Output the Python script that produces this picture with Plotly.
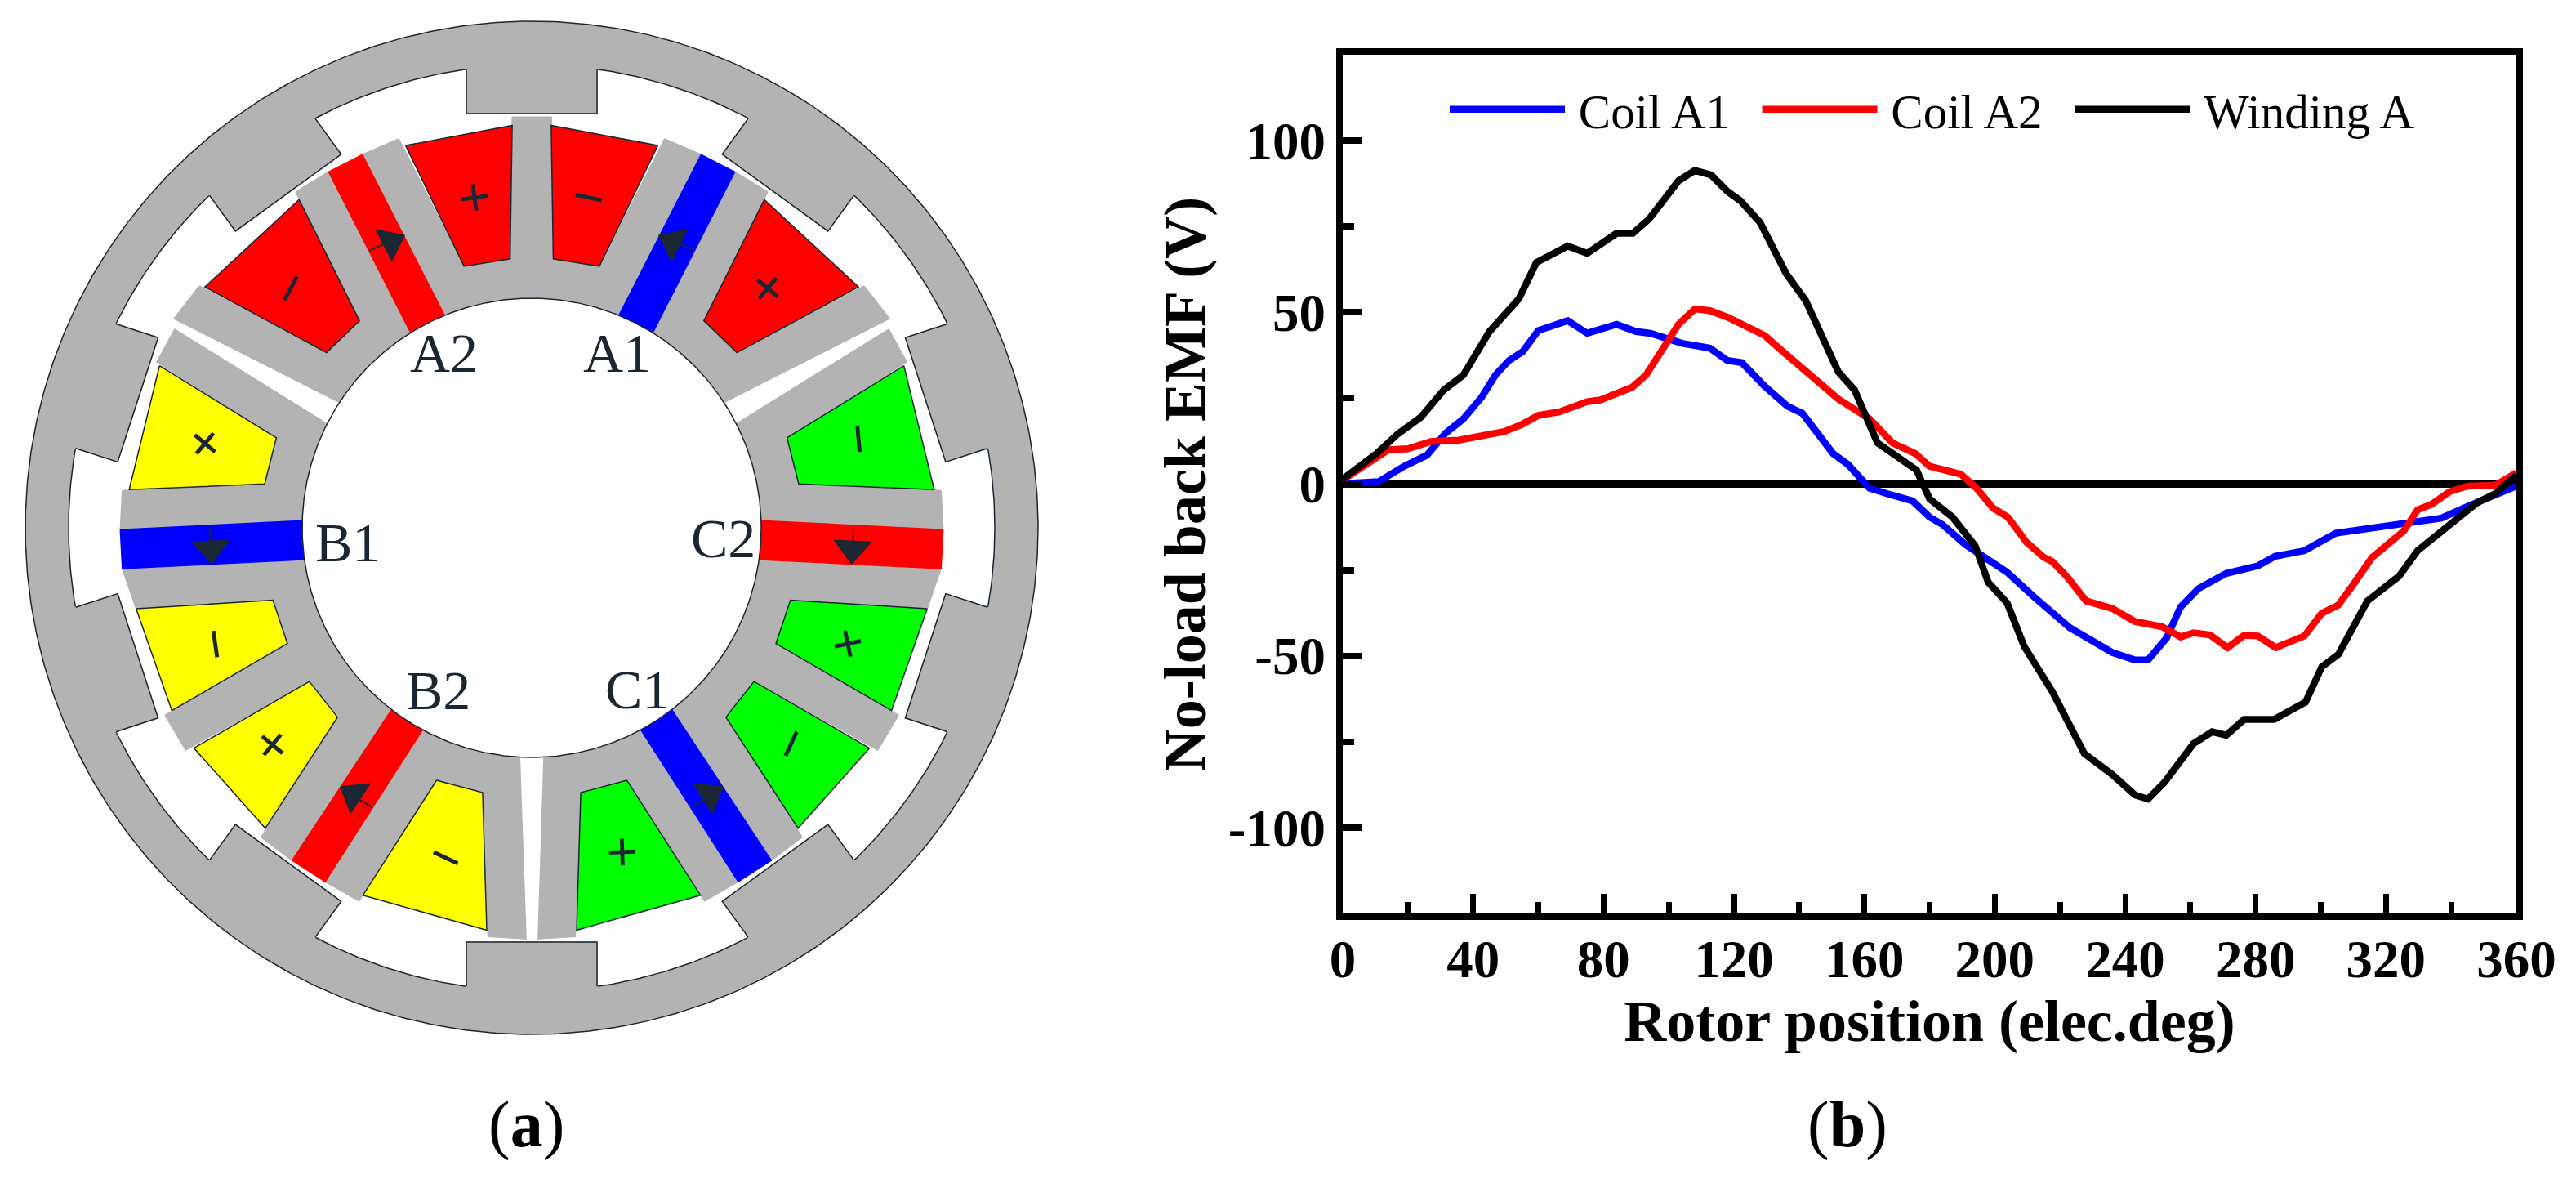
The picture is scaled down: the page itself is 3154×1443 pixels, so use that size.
import numpy as np
import plotly.graph_objects as go

# ---- right panel: back EMF curves
COIL_A1_DEG = [0, 11, 18.8, 25.8, 31.4, 37, 42.6, 46.8, 51, 55.2, 60, 69, 75, 84, 90, 94.4, 104, 112.6, 118, 122.4,
               129.4, 136.4, 141, 150.4, 155, 161.6, 167, 174.8, 180, 184, 191, 203.7, 212, 223, 236, 243, 247,
               252.7, 257, 262.5, 271, 280.7, 286, 295, 304.6, 320, 337, 345, 353.7, 360]
COIL_A1_V = [0.1, 0.7, 5.2, 8.4, 14.7, 19, 25.3, 31.7, 36, 38.6, 44.7, 47.6, 43.9, 46.5, 44.4, 43.9, 41, 39.6, 36, 35.4,
             28.5, 22.7, 20.6, 8.9, 5.7, -1.2, -2.8, -4.9, -9.6, -11.8, -17.6, -25.6, -32.8, -41.8, -49, -51.2, -51.2,
             -44.8, -35.8, -30.4, -26, -23.8, -21, -19.4, -14.3, -12.3, -9.9, -6.5, -3.3, -0.6]

COIL_A2_DEG = [0, 7.6, 14, 20, 27, 35.6, 41, 49.6, 55, 60, 66.4, 75, 79, 88.8, 93, 98.6, 103, 108, 112.6, 118, 124,
               129.4, 135, 143.4, 152, 161.6, 168.6, 175.6, 180, 189.6, 194.4, 199.5, 204, 209.8, 215, 217.7, 222,
               228, 236, 243, 251.3, 257, 261, 266, 271.4, 276.5, 280.7, 286.2, 295, 300.3, 305.4, 310, 315.7, 325.5,
               329.7, 334, 339.5, 345, 353.7, 360]
COIL_A2_V = [1.2, 6.2, 10, 10.3, 12.4, 12.8, 13.9, 15.3, 17.4, 20, 21, 24, 24.5, 28.2, 31.7, 40, 46.5, 51, 50.5, 48.6, 46,
             43.3, 38.6, 31.7, 24.8, 19, 12, 8.9, 5.2, 2.9, -1.2, -7, -9.6, -17, -21.3, -22.6, -26.8,
             -34, -36.2, -40, -41.5, -44.5, -43.3, -43.9, -47.6, -44, -44.2, -47.6, -44.2, -37.6, -35.2, -29.2, -21.4, -13.6,
             -7.5, -5.9, -2.2, -0.6, -0.3, 3.3]

WINDING_A_DEG = [0, 10.4, 17, 24, 31, 37, 45, 54, 59.4, 69, 75, 84, 89, 94, 103, 108, 113, 118, 122, 128, 136, 142,
                 152, 157, 164, 176, 180, 187, 194, 198, 203.8, 209, 217.7, 227.5, 236, 243, 247, 252, 261, 266.7, 271,
                 276.5, 285.7, 295.3, 300.3, 305.4, 314.3, 324, 329.7, 339.5, 348, 353.5, 360]
WINDING_A_V = [1.5, 8.9, 14.7, 19.5, 27.4, 31.7, 44.4, 53.9, 64.5, 69.3, 67.2, 73, 73, 77.2, 88.3, 91.3, 90, 85.2, 82.5, 76.2, 61.3, 53.4,
               32.7, 27.4, 12, 4.1, -4.3, -9.6, -18, -28.6, -34.6, -47.2, -60.5, -78.5, -84.5, -90.5, -91.7, -86.9, -75.5, -72.1, -73.1,
               -68.5, -68.5, -63.5, -53.2, -49.6, -34, -26.8, -19.4, -11.8, -5.4, -2.8, 2.5]

X_TICKS = [0, 40, 80, 120, 160, 200, 240, 280, 320, 360]
X_LABELS = ["0", "40", "80", "120", "160", "200", "240", "280", "320", "360"]
Y_TICKS = [-100, -50, 0, 50, 100]
Y_LABELS = ["-100", "-50", "0", "50", "100"]

# ---- left panel: machine cross section, in picture pixels
W, H = 3154, 1443
CX, CY = 651, 646
R_ROTOR_OUT = 620
R_ROTOR_IN = 567
R_BACK_IRON = 330
R_BORE = 281

GREY = "#b3b3b3"
DARK = "#1a2733"
RED = "#ff0000"
BLUE = "#0000ff"
YELLOW = "#ffff00"
GREEN = "#00ff00"

ROTOR_TOOTH_ANGLES = [0, 36, 72, 108, 144, 180, 216, 252, 288, 324]
ROTOR_TOOTH_LOCAL = [(-80, -507), (80, -507), (80, -575), (-80, -575)]
ROTOR_TOOTH_EDGE = [(-80, -561), (-80, -507), (80, -507), (80, -561)]

# stator teeth, left half (the right half is the mirror image)
TOOTH_B = [(443.6, 189.2), (488.2, 169.9), (568.2, 326.9), (543.8, 384.8)]
TOOTH_C = [(362, 235), (402.4, 210.3), (502.5, 406.3), (440.2, 392.6)]
TOOTH_D = [(244.1, 349.9), (212.1, 391.2), (412.5, 492.7), (399.8, 431.6)]
TOOTH_E = [(214.6, 401.7), (399.8, 516.5), (338.4, 535.8), (191.9, 443)]
TOOTH_F = [(149.8, 600.6), (324.1, 592.3), (368.7, 637.3), (147.3, 648.3)]
TOOTH_G = [(149.8, 696), (370.4, 685), (351.9, 787.7), (334.2, 734.6), (166.7, 745)]
TOOTH_H = [(202, 875.4), (227.3, 918), (378.8, 834.1), (351.9, 787.7)]
TOOTH_I = [(319.9, 1024.6), (357.7, 1053.1), (478.1, 870.6), (413.3, 877.7)]
TOOTH_J = [(398.1, 1079.1), (439.4, 1102.8), (534.5, 955), (516, 895.3)]
TOOTH_K = [(590.9, 970.1), (597.6, 1146.4), (645.6, 1149.3), (637.2, 915), (590, 915)]
LEFT_TEETH = [TOOTH_B, TOOTH_C, TOOTH_D, TOOTH_E, TOOTH_F, TOOTH_G, TOOTH_H, TOOTH_I, TOOTH_J, TOOTH_K]
TOP_TOOTH = [(627.1, 143.3), (675.1, 143.3), (677.6, 330.6), (624.6, 330.6)]

# white slits through the stator
SLIT_LEFT = [(212.1, 391.2), (412.5, 492.7), (432, 505), (420, 529), (399.8, 516.5), (214.6, 401.7)]
SLIT_BOTTOM = [(637.2, 910), (665, 910), (657.4, 1149.3), (645.6, 1149.3)]

# coils: left polygon, its colour, colour of the mirrored one
COIL_TOP = [(496.6, 178.1), (627.1, 153.4), (624.6, 316.8), (568.2, 326)]
COIL_UPPER = [(366.2, 244.3), (440.2, 392.6), (399.8, 431.6), (250.8, 351.2)]
COIL_SIDE_UP = [(195.3, 447.7), (338.4, 535.8), (324.1, 592.3), (158.2, 599.2)]
COIL_SIDE_DOWN = [(166.7, 745), (334.2, 734.6), (351.9, 787.7), (210.4, 869.7)]
COIL_LOWER = [(378.8, 834.1), (413.3, 877.7), (324.9, 1013.7), (237.4, 915.6)]
COIL_BOTTOM = [(534.5, 955), (590.9, 970.1), (596, 1138.4), (444.4, 1095.7)]
COILS = [(COIL_TOP, RED, RED), (COIL_UPPER, RED, RED), (COIL_SIDE_UP, YELLOW, GREEN),
         (COIL_SIDE_DOWN, YELLOW, GREEN), (COIL_LOWER, YELLOW, GREEN), (COIL_BOTTOM, YELLOW, GREEN)]

# magnets
PM_TOP = [(402.4, 210.3), (443.6, 189.2), (553.8, 404.8), (512.5, 426.3)]
PM_SIDE = [(147.3, 648.3), (390, 636.2), (390, 684), (149.8, 696)]
PM_BOTTOM = [(478.1, 870.6), (490, 852.6), (528, 877), (516, 895.3), (398.1, 1079.1), (357.7, 1053.1)]
MAGNETS = [(PM_TOP, RED, BLUE), (PM_SIDE, BLUE, RED), (PM_BOTTOM, RED, BLUE)]

# magnetisation arrows
ARROW_TOP = [(460.4, 281), (495, 288.3), (479.8, 319)]
ARROW_SIDE = [(235.7, 663.5), (280.3, 661.2), (259.3, 690)]
ARROW_BOTTOM = [(416.7, 963), (452.9, 959.2), (429.3, 994.8)]
STEM_TOP = [(452, 306.7), (471.4, 298.4)]
STEM_SIDE = [(257, 646.5), (258, 670)]
STEM_BOTTOM = [(454.5, 987.7), (437.7, 977.3)]

COIL_LABELS = ["A2", "A1", "B1", "C2", "B2", "C1"]
COIL_LABEL_X = [543.8, 755, 425, 885.5, 536, 780]
COIL_LABEL_Y = [431.6, 431.6, 664.4, 659, 844.5, 843.6]

POLARITY_SIGNS = ["+", "−", "−", "+", "+", "−", "−", "+", "+", "−", "−", "+"]
POLARITY_X = [580.8, 721.4, 356, 940, 250.8, 1052, 263.5, 1038, 334.2, 968, 545.5, 761.8]
POLARITY_Y = [241, 241, 352.6, 352.6, 542.7, 537, 787.7, 787.7, 911, 910, 1049, 1042]
POLARITY_ANGLE = [-8, 12, -62, 40, 40, 85, 82, -12, 40, -65, 25, -2]


def mirror(points):
    return [(2 * CX - x, y) for x, y in points]


def rotate_local(points, deg):
    a = np.radians(deg)
    return [(CX + x * np.cos(a) - y * np.sin(a), CY + x * np.sin(a) + y * np.cos(a)) for x, y in points]


def add_poly(fig, points, fill, line=None, width=1.5):
    xs = [p[0] for p in points] + [points[0][0]]
    ys = [p[1] for p in points] + [points[0][1]]
    fig.add_trace(go.Scatter(x=xs, y=ys, mode="lines", fill="toself", fillcolor=fill,
                             line=dict(color=line or fill, width=width),
                             xaxis="x2", yaxis="y2", showlegend=False, hoverinfo="skip"))


def add_disk(fig, r, fill, line=None, width=1.5):
    t = np.linspace(0, 2 * np.pi, 721)
    add_poly(fig, list(zip(CX + r * np.cos(t), CY + r * np.sin(t))), fill, line, width)


def add_stem(fig, points, width=2):
    fig.add_trace(go.Scatter(x=[p[0] for p in points], y=[p[1] for p in points], mode="lines",
                             line=dict(color=DARK, width=width), xaxis="x2", yaxis="y2",
                             showlegend=False, hoverinfo="skip"))


fig = go.Figure()

# machine, painted from the outside in
add_disk(fig, R_ROTOR_OUT, GREY, DARK)
add_disk(fig, R_ROTOR_IN, "white", DARK)
for ang in ROTOR_TOOTH_ANGLES:
    add_poly(fig, rotate_local(ROTOR_TOOTH_LOCAL, ang), GREY, GREY)
    add_stem(fig, rotate_local(ROTOR_TOOTH_EDGE, ang), width=1.5)
add_disk(fig, R_BACK_IRON, GREY)
add_poly(fig, TOP_TOOTH, GREY)
for tooth in LEFT_TEETH:
    add_poly(fig, tooth, GREY)
    add_poly(fig, mirror(tooth), GREY)
add_poly(fig, SLIT_LEFT, "white")
add_poly(fig, mirror(SLIT_LEFT), "white")
add_poly(fig, SLIT_BOTTOM, "white")
for coil, left_col, right_col in COILS:
    add_poly(fig, coil, left_col, DARK)
    add_poly(fig, mirror(coil), right_col, DARK)
for pm, left_col, right_col in MAGNETS:
    add_poly(fig, pm, left_col)
    add_poly(fig, mirror(pm), right_col)
add_disk(fig, R_BORE, "white", DARK)
for tri, stem in [(ARROW_TOP, STEM_TOP), (ARROW_SIDE, STEM_SIDE), (ARROW_BOTTOM, STEM_BOTTOM)]:
    add_poly(fig, tri, DARK)
    add_poly(fig, mirror(tri), DARK)
    add_stem(fig, stem)
    add_stem(fig, mirror(stem))

# back EMF curves
fig.add_trace(go.Scatter(x=COIL_A1_DEG, y=COIL_A1_V, mode="lines", name="\u2009Coil A1\u00a0\u00a0", line=dict(color=BLUE, width=8.5)))
fig.add_trace(go.Scatter(x=COIL_A2_DEG, y=COIL_A2_V, mode="lines", name="\u2009Coil A2\u00a0\u00a0", line=dict(color=RED, width=8.5)))
fig.add_trace(go.Scatter(x=WINDING_A_DEG, y=WINDING_A_V, mode="lines", name="\u2009Winding A", line=dict(color="black", width=8.5)))

annotations = []
for label, x, y in zip(COIL_LABELS, COIL_LABEL_X, COIL_LABEL_Y):
    annotations.append(dict(x=x, y=y, xref="x2", yref="y2", text=label, showarrow=False,
                            font=dict(family="Liberation Serif", size=68, color=DARK)))
for sign, x, y, ang in zip(POLARITY_SIGNS, POLARITY_X, POLARITY_Y, POLARITY_ANGLE):
    annotations.append(dict(x=x, y=y, xref="x2", yref="y2", text=sign, textangle=ang, showarrow=False,
                            font=dict(family="Liberation Serif", size=70, color=DARK, weight=700)))
annotations.append(dict(x=644, y=1376, xref="x2", yref="y2", text="(<b>a</b>)", showarrow=False,
                        font=dict(family="Liberation Serif", size=80, color="black")))
annotations.append(dict(x=2262, y=1376, xref="x2", yref="y2", text="(<b>b</b>)", showarrow=False,
                        font=dict(family="Liberation Serif", size=80, color="black")))

bold_ticks = dict(family="Liberation Serif", size=65, color="black", weight=700)
bold_title = dict(family="Liberation Serif", size=72, color="black", weight=700)

fig.update_layout(
    width=W,
    height=H,
    margin=dict(l=0, r=0, t=0, b=0),
    autosize=False,
    paper_bgcolor="white",
    plot_bgcolor="rgba(0,0,0,0)",
    annotations=annotations,
    xaxis=dict(
        domain=[1644 / W, 3081 / W], range=[0, 360], anchor="y",
        tickmode="array", tickvals=X_TICKS, ticktext=X_LABELS, tickfont=bold_ticks,
        ticks="inside", ticklen=24, tickwidth=7, tickcolor="black", ticklabelstandoff=-8,
        minor=dict(dtick=20, ticks="inside", ticklen=14, tickwidth=7, tickcolor="black"),
        showline=True, linewidth=8, linecolor="black", mirror=True, showgrid=False, zeroline=False,
        title=dict(text="Rotor position (elec.deg)", font=bold_title, standoff=0),
        automargin=False,
    ),
    yaxis=dict(
        domain=[1 - 1118 / H, 1 - 67 / H], range=[-125, 125], anchor="x",
        tickmode="array", tickvals=Y_TICKS, ticktext=Y_LABELS, tickfont=bold_ticks,
        ticks="inside", ticklen=24, tickwidth=8, tickcolor="black",
        minor=dict(dtick=25, ticks="inside", ticklen=14, tickwidth=8, tickcolor="black"),
        showline=True, linewidth=8, linecolor="black", mirror=True, showgrid=False,
        zeroline=True, zerolinewidth=9, zerolinecolor="black",
        title=dict(text="No-load back EMF (V)", font=bold_title, standoff=8),
        automargin=False,
    ),
    xaxis2=dict(domain=[0, 1], range=[0, W], anchor="y2", visible=False),
    yaxis2=dict(domain=[0, 1], range=[H, 0], anchor="x2", visible=False),
    showlegend=True,
    legend=dict(
        orientation="h", x=1770 / W, y=1 - 134 / H, xanchor="left", yanchor="middle",
        itemwidth=141, bgcolor="rgba(0,0,0,0)",
        font=dict(family="Liberation Serif", size=59, color="black"),
    ),
)

fig.write_html("out.html", post_script="document.body.style.margin='0';",
               config={"displayModeBar": False})
